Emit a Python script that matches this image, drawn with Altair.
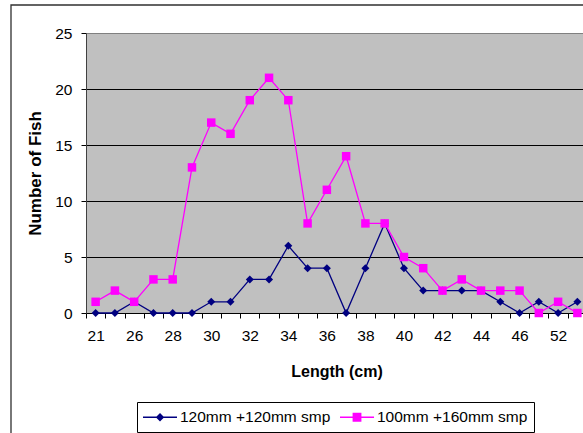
import altair as alt
import pandas as pd

categories = ["21", "25", "26", "27", "28", "29", "30", "31", "32", "33", "34", "35", "36",
              "37", "38", "39", "40", "41", "42", "43", "44", "45", "46", "48", "52", "54"]
shown_labels = ["21", "26", "28", "30", "32", "34", "36", "38", "40", "42", "44", "46", "52"]
series_names = ["120mm +120mm smp", "100mm +160mm smp"]
blue_values = [0, 0, 1, 0, 0, 0, 1, 1, 3, 3, 6, 4, 4, 0, 4, 8, 4, 2, 2, 2, 2, 1, 0, 1, 0, 1]
pink_values = [1, 2, 1, 3, 3, 13, 17, 16, 19, 21, 19, 8, 11, 14, 8, 8, 5, 4, 2, 3, 2, 2, 2, 0, 1, 0]
colors = ["#000080", "#FF00FF"]
y_ticks = [0, 5, 10, 15, 20, 25]

n = len(categories)
df = pd.DataFrame({
    "length": categories * 2,
    "series": [series_names[0]] * n + [series_names[1]] * n,
    "count": blue_values + pink_values,
})

FONT = "Liberation Sans"
label_list = ",".join("'%s'" % s for s in shown_labels)

x_enc = alt.X(
    "length:N",
    sort=categories,
    scale=alt.Scale(type="band", domain=categories, range=[0, 501], paddingInner=0, paddingOuter=0),
    axis=alt.Axis(
        title="Length (cm)",
        labelExpr="indexof([%s], datum.label) >= 0 ? datum.label : ''" % label_list,
        labelAngle=0,
        labelOverlap=False,
        labelFontSize=15.5,
        labelPadding=10,
        tickSize=5,
        tickBand="extent",
        tickColor="#000000",
        domainColor="#000000",
        titleFontSize=16,
        titleFontWeight="bold",
        titlePadding=20,
        grid=False,
    ),
)
y_enc = alt.Y(
    "count:Q",
    scale=alt.Scale(domain=[0, 25]),
    axis=alt.Axis(
        title="Number of Fish",
        values=y_ticks,
        grid=True,
        gridColor={"condition": {"test": "datum.value === 25", "value": "#808080"}, "value": "#000000"},
        gridWidth=1,
        labelFontSize=15.5,
        labelPadding=9,
        tickSize=5,
        tickColor="#000000",
        domainColor="#404040",
        titleFontSize=17,
        titleFontWeight="bold",
        titlePadding=10,
    ),
)

base = alt.Chart(df)
layers = []
shapes = ["diamond", "square"]
sizes = [64, 72]
for i, name in enumerate(series_names):
    sub = base.transform_filter(alt.datum.series == name)
    layers.append(sub.mark_line(color=colors[i], strokeWidth=1.3).encode(x=x_enc, y=y_enc))
for i, name in enumerate(series_names):
    sub = base.transform_filter(alt.datum.series == name)
    layers.append(sub.mark_point(filled=True, opacity=1, shape=shapes[i], size=sizes[i],
                                 color=colors[i]).encode(x=x_enc, y=y_enc))

legend_paths = [
    "M-1,-0.07H2.78V0.07H-1Z M0.89,-0.47L1.36,0L0.89,0.47L0.42,0Z",
    "M-1,-0.07H2.78V0.07H-1Z M0.40,-0.49H1.38V0.49H0.40Z",
]
leg = alt.Legend(title=None, orient="none", legendX=51, legendY=369, direction="horizontal")
legend_layer = base.mark_point(filled=True, opacity=1).encode(
    x=alt.value(-500),
    y=alt.value(-500),
    color=alt.Color("series:N", scale=alt.Scale(domain=series_names, range=colors), legend=leg),
    shape=alt.Shape("series:N", scale=alt.Scale(domain=series_names, range=legend_paths), legend=leg),
)

frame = alt.Chart(pd.DataFrame({"a": [0]})).mark_rect(
    fillOpacity=0, stroke="#303030", strokeWidth=1.3
).encode(
    x=alt.value(-75), x2=alt.value(700), y=alt.value(-28), y2=alt.value(700)
)

chart = alt.layer(*layers, legend_layer, frame).properties(
    width=497,
    height=280,
    autosize=alt.AutoSizeParams(type="none"),
    padding={"left": 86, "top": 33, "right": 0, "bottom": 120},
    background="white",
).configure_view(
    fill="#C0C0C0", stroke="transparent"
).configure_axis(
    labelFont=FONT, titleFont=FONT, labelColor="#000000", titleColor="#000000"
).configure_legend(
    labelFont=FONT,
    labelFontSize=15.5,
    labelColor="#000000",
    labelLimit=400,
    strokeColor="#000000",
    fillColor="#FFFFFF",
    padding=6,
    symbolSize=324,
    symbolStrokeWidth=0,
    labelOffset=19,
    columnPadding=9,
)

chart.save("out.html", embed_options={"renderer": "svg", "actions": False})
